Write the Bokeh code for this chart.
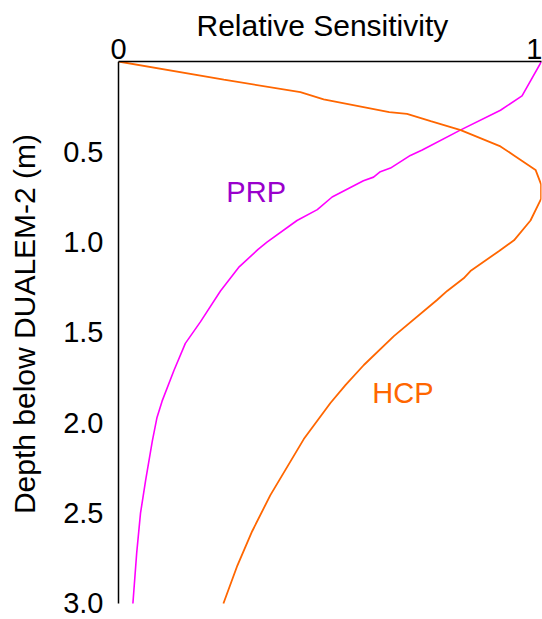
import math
from bokeh.plotting import figure
from bokeh.models import Range1d, FixedTicker, ColumnDataSource, Title, Label
from bokeh.core.properties import value
from bokeh.embed import file_html
from bokeh.resources import INLINE

# ---- data ----
prp_depth = [0.00, 0.19, 0.27, 0.38, 0.49, 0.52, 0.59, 0.61, 0.64, 0.66, 0.75, 0.82,
             0.88, 1.00, 1.04, 1.14, 1.27, 1.44, 1.56, 1.71, 1.88, 1.97, 2.10, 2.32,
             2.50, 2.72, 3.00]
prp_sens = [1.000, 0.954, 0.903, 0.808, 0.718, 0.690, 0.643, 0.619, 0.603, 0.579, 0.505, 0.470,
            0.422, 0.351, 0.330, 0.284, 0.241, 0.194, 0.158, 0.131, 0.103, 0.091, 0.080, 0.064,
            0.052, 0.043, 0.034]

hcp_depth = [0.00, 0.10, 0.17, 0.21, 0.28, 0.29, 0.33, 0.38, 0.47, 0.52, 0.60, 0.68,
             0.76, 0.88, 0.99, 1.05, 1.16, 1.20, 1.27, 1.32, 1.52, 1.68, 1.79, 1.89,
             2.09, 2.40, 2.60, 2.79, 3.00]
hcp_sens = [0.000, 0.249, 0.430, 0.485, 0.640, 0.682, 0.738, 0.809, 0.903, 0.935, 0.986, 0.999,
            0.999, 0.974, 0.935, 0.899, 0.832, 0.816, 0.777, 0.753, 0.651, 0.580, 0.537, 0.501,
            0.438, 0.359, 0.316, 0.281, 0.248]

x_ticks = [0, 1]
x_tick_labels = ["0", "1"]
y_ticks = [0.5, 1.0, 1.5, 2.0, 2.5, 3.0]
y_tick_labels = ["0.5", "1.0", "1.5", "2.0", "2.5", "3.0"]

series_names = ["PRP", "HCP"]
series_label_x = [0.255, 0.600]
series_label_depth = [0.722, 1.834]

x_title = "Relative Sensitivity"
y_title = "Depth below DUALEM-2 (m)"

FONT = "Liberation Sans"
FS = "29px"
TFS = "30px"

# the frame spans the whole width; the depth axis sits at sensitivity 0
p = figure(width=542, height=619,
           x_range=Range1d(-0.279, 1), y_range=Range1d(3.0886, 0),
           x_axis_location="above",
           output_backend="svg", toolbar_location=None,
           min_border_left=0, min_border_right=1,
           min_border_top=61, min_border_bottom=0)
p.outline_line_color = None
p.xgrid.grid_line_color = None
p.ygrid.grid_line_color = None
p.background_fill_color = "white"
p.border_fill_color = "white"

for ax in (p.xaxis[0], p.yaxis[0]):
    ax.axis_line_color = "black"
    ax.axis_line_width = 1.5
    ax.major_tick_line_color = None
    ax.minor_tick_line_color = None
    ax.major_tick_in = 0
    ax.major_tick_out = 0
    ax.minor_tick_in = 0
    ax.minor_tick_out = 0
    ax.major_label_text_font = FONT
    ax.major_label_text_font_size = FS
    ax.major_label_text_color = "black"

p.xaxis[0].ticker = FixedTicker(ticks=x_ticks)
p.xaxis[0].major_label_overrides = {t: l for t, l in zip(x_ticks, x_tick_labels)}
p.xaxis[0].major_label_standoff = 3
p.xaxis[0].bounds = (0, 1)

p.yaxis[0].ticker = FixedTicker(ticks=y_ticks)
p.yaxis[0].major_label_overrides = {t: l for t, l in zip(y_ticks, y_tick_labels)}
p.yaxis[0].major_label_standoff = 15
p.yaxis[0].fixed_location = 0
p.yaxis[0].bounds = (0, 3)

p.add_layout(Title(text=x_title, align="left", offset=196, standoff=-12,
                   text_font=FONT, text_font_size=TFS, text_font_style="normal",
                   text_color="black"), "above")

p.add_layout(Label(x=-0.2234, y=1.453, text=y_title, angle=math.pi / 2,
                   text_align="center", text_baseline="middle",
                   text_font=FONT, text_font_size=TFS, text_font_style="normal",
                   text_color="black"))

p.line(x=prp_sens, y=prp_depth, line_color="#FF00FF", line_width=1.6)
p.line(x=hcp_sens, y=hcp_depth, line_color="#FF6600", line_width=1.8)

src = ColumnDataSource(dict(x=series_label_x, y=series_label_depth, t=series_names,
                            c=["#9900CC", "#FF6600"]))
p.text(x="x", y="y", text="t", text_color="c", source=src,
       text_font=value(FONT), text_font_size=FS,
       text_align="left", text_baseline="alphabetic")

open("out.html", "w").write(file_html(p, INLINE))
